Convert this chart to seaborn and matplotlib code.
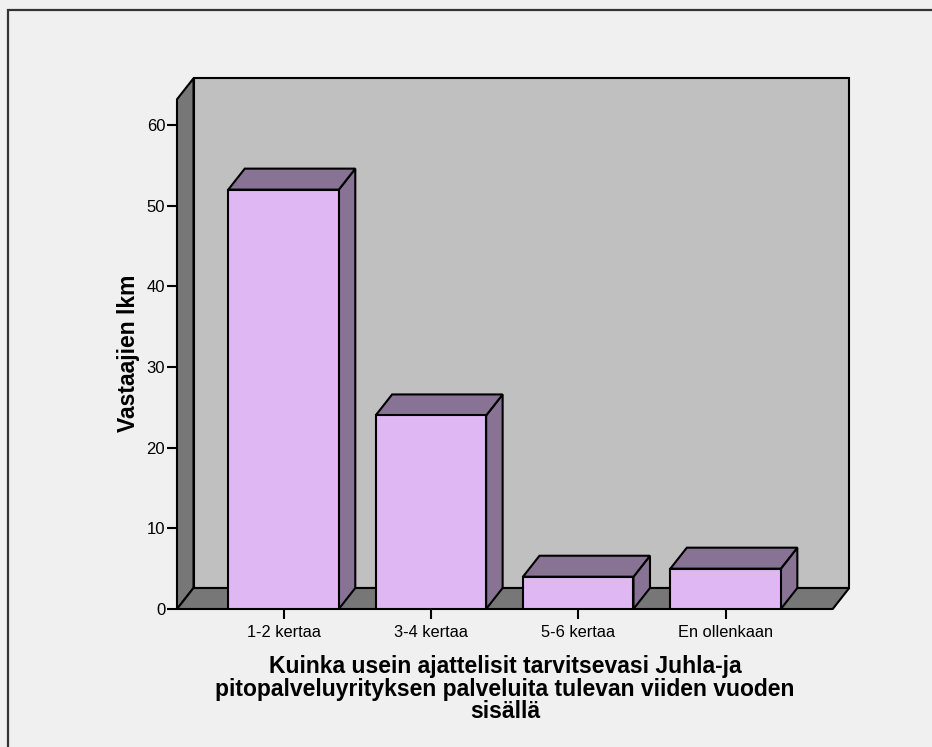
import matplotlib
matplotlib.use("Agg")
import matplotlib.pyplot as plt
from matplotlib.patches import Polygon, Rectangle
from matplotlib.transforms import IdentityTransform
import seaborn as sns

# Responses per category
categories = ["1-2 kertaa", "3-4 kertaa", "5-6 kertaa", "En ollenkaan"]
counts = [52, 24, 4, 5]
y_ticks = [0, 10, 20, 30, 40, 50, 60]
x_title = ("Kuinka usein ajattelisit tarvitsevasi Juhla-ja\n"
           "pitopalveluyrityksen palveluita tulevan viiden vuoden\n"
           "sisällä")
y_title = "Vastaajien lkm"

# Colours of the pseudo-3D chart
BG = "#F0F0F0"
WALL = "#C0C0C0"
SIDE_WALL = "#777777"
BAR_FRONT = "#DFB8F3"
BAR_SHADE = "#887394"
LW = 1.5

W, H, DPI = 932, 747, 100
DX, DY = 16.5, 21.0  # depth offset in pixels

plt.rcParams["font.family"] = ["Liberation Sans", "DejaVu Sans"]

fig = plt.figure(figsize=(W / DPI, H / DPI), dpi=DPI, facecolor=BG)
ax = fig.add_axes([177 / W, (H - 609) / H, (832.7 - 177) / W, (609 - 99.3) / H])
ax.set_facecolor("none")

sns.barplot(x=categories, y=counts, ax=ax, width=0.75, color=BAR_FRONT,
            saturation=1, edgecolor="black", linewidth=LW, zorder=3)

XMIN, XMAX, YTOP = -0.723, 3.727, 63.2
ax.set_xlim(XMIN, XMAX)
ax.set_ylim(0, YTOP)


def disp(x, y, depth=0.0):
    px, py = ax.transData.transform((x, y))
    return (px + depth * DX, py + depth * DY)


def face(points, color, z):
    ax.add_patch(Polygon(points, closed=True, facecolor=color, edgecolor="black",
                         linewidth=LW, joinstyle="miter", transform=IdentityTransform(),
                         clip_on=False, zorder=z))


# Back wall
face([disp(XMIN, 0, 1), disp(XMAX, 0, 1), disp(XMAX, YTOP, 1), disp(XMIN, YTOP, 1)], WALL, 0.5)
# Left wall
face([disp(XMIN, 0), disp(XMIN, YTOP), disp(XMIN, YTOP, 1), disp(XMIN, 0, 1)], SIDE_WALL, 0.6)
# Floor
face([disp(XMIN, 0), disp(XMAX, 0), disp(XMAX, 0, 1), disp(XMIN, 0, 1)], SIDE_WALL, 0.6)

# Side and top faces of every bar
bars = [p for p in ax.patches if isinstance(p, Rectangle)]
for bar in bars:
    x0 = bar.get_x()
    x1 = x0 + bar.get_width()
    h = bar.get_height()
    face([disp(x1, 0), disp(x1, h), disp(x1, h, 1), disp(x1, 0, 1)], BAR_SHADE, 2)
    face([disp(x0, h), disp(x1, h), disp(x1, h, 1), disp(x0, h, 1)], BAR_SHADE, 2)

for s in ax.spines.values():
    s.set_visible(False)

ax.set_yticks(y_ticks)
ax.set_yticklabels([str(v) for v in y_ticks])
ax.tick_params(axis="y", length=7.5, width=1.5, direction="out", labelsize=12, pad=1,
               colors="black")
ax.tick_params(axis="x", length=7.5, width=1.5, direction="out", labelsize=11.8, pad=4,
               colors="black")
ax.set_xlabel("")
ax.set_ylabel("")

fig.text(128 / W, 1 - 353 / H, y_title, rotation=90, ha="center", va="center",
         fontsize=16.5, fontweight="bold")
fig.text(505 / W, 1 - 655 / H, x_title, ha="center", va="top", fontsize=16.5,
         fontweight="bold", linespacing=0.98)

# Outer frame (left and top edges inside the image)
fig.add_artist(Rectangle((8 / W, -0.1), 1.2, 1.1 - 10 / H, transform=fig.transFigure,
                         fill=False, edgecolor="#333333", linewidth=1.6))

fig.savefig("out.png", dpi=DPI, facecolor=BG)
